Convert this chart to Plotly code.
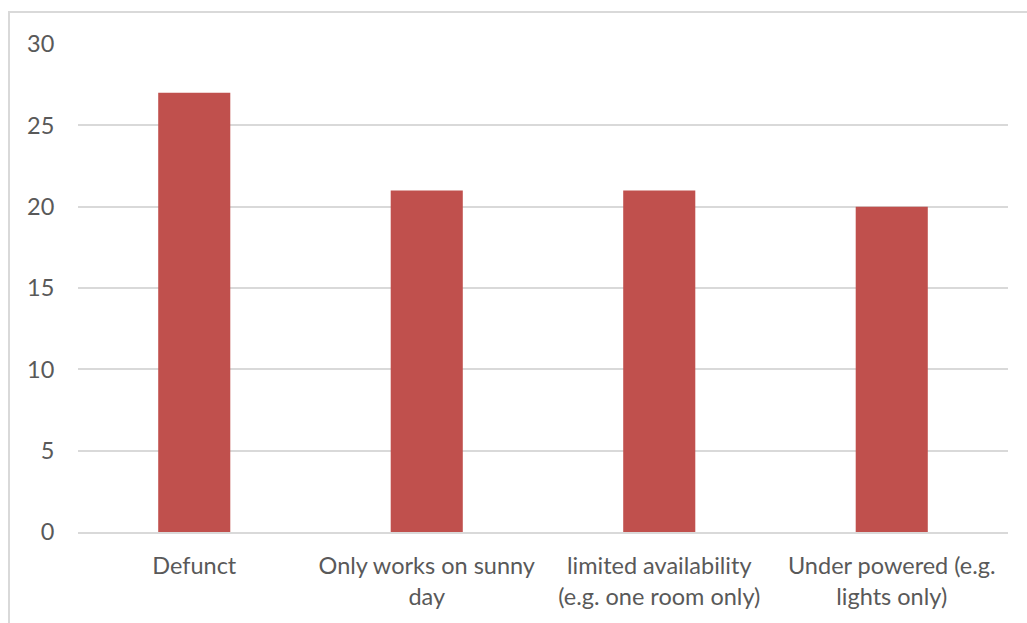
import plotly.graph_objects as go

categories = ["Defunct", "Only works on sunny<br>day", "limited availability<br>(e.g. one room only)", "Under powered (e.g.<br>lights only)"]
values = [27, 21, 21, 20]
y_ticks = [0, 5, 10, 15, 20, 25, 30]

fig = go.Figure(go.Bar(x=categories, y=values, marker=dict(color="#C0504D", line=dict(width=0)), width=0.31))

font = dict(family="Lato, Carlito, Calibri, sans-serif", size=23.5, color="#595959")
fig.update_layout(
    width=1027, height=623,
    margin=dict(l=78, r=19, t=44, b=91),
    paper_bgcolor="white", plot_bgcolor="white",
    font=font, showlegend=False,
    bargap=0.69,
    xaxis=dict(showgrid=False, showline=True, linecolor="#D9D9D9", linewidth=2, ticks="outside", ticklen=12, tickcolor="white", tickfont=font),
    yaxis=dict(range=[0, 30], tickvals=y_ticks, showgrid=True, gridcolor="#D9D9D9", gridwidth=2, zeroline=False, showline=False,
               ticks="outside", ticklen=0, ticklabelstandoff=18, tickfont=font),
    shapes=[dict(type="rect", xref="paper", yref="paper", x0=-0.0742, x1=1.03, y0=-0.3, y1=1.0656,
                 line=dict(color="#D9D9D9", width=2), fillcolor="rgba(0,0,0,0)", layer="below")],
)

fig.write_html("out.html")
